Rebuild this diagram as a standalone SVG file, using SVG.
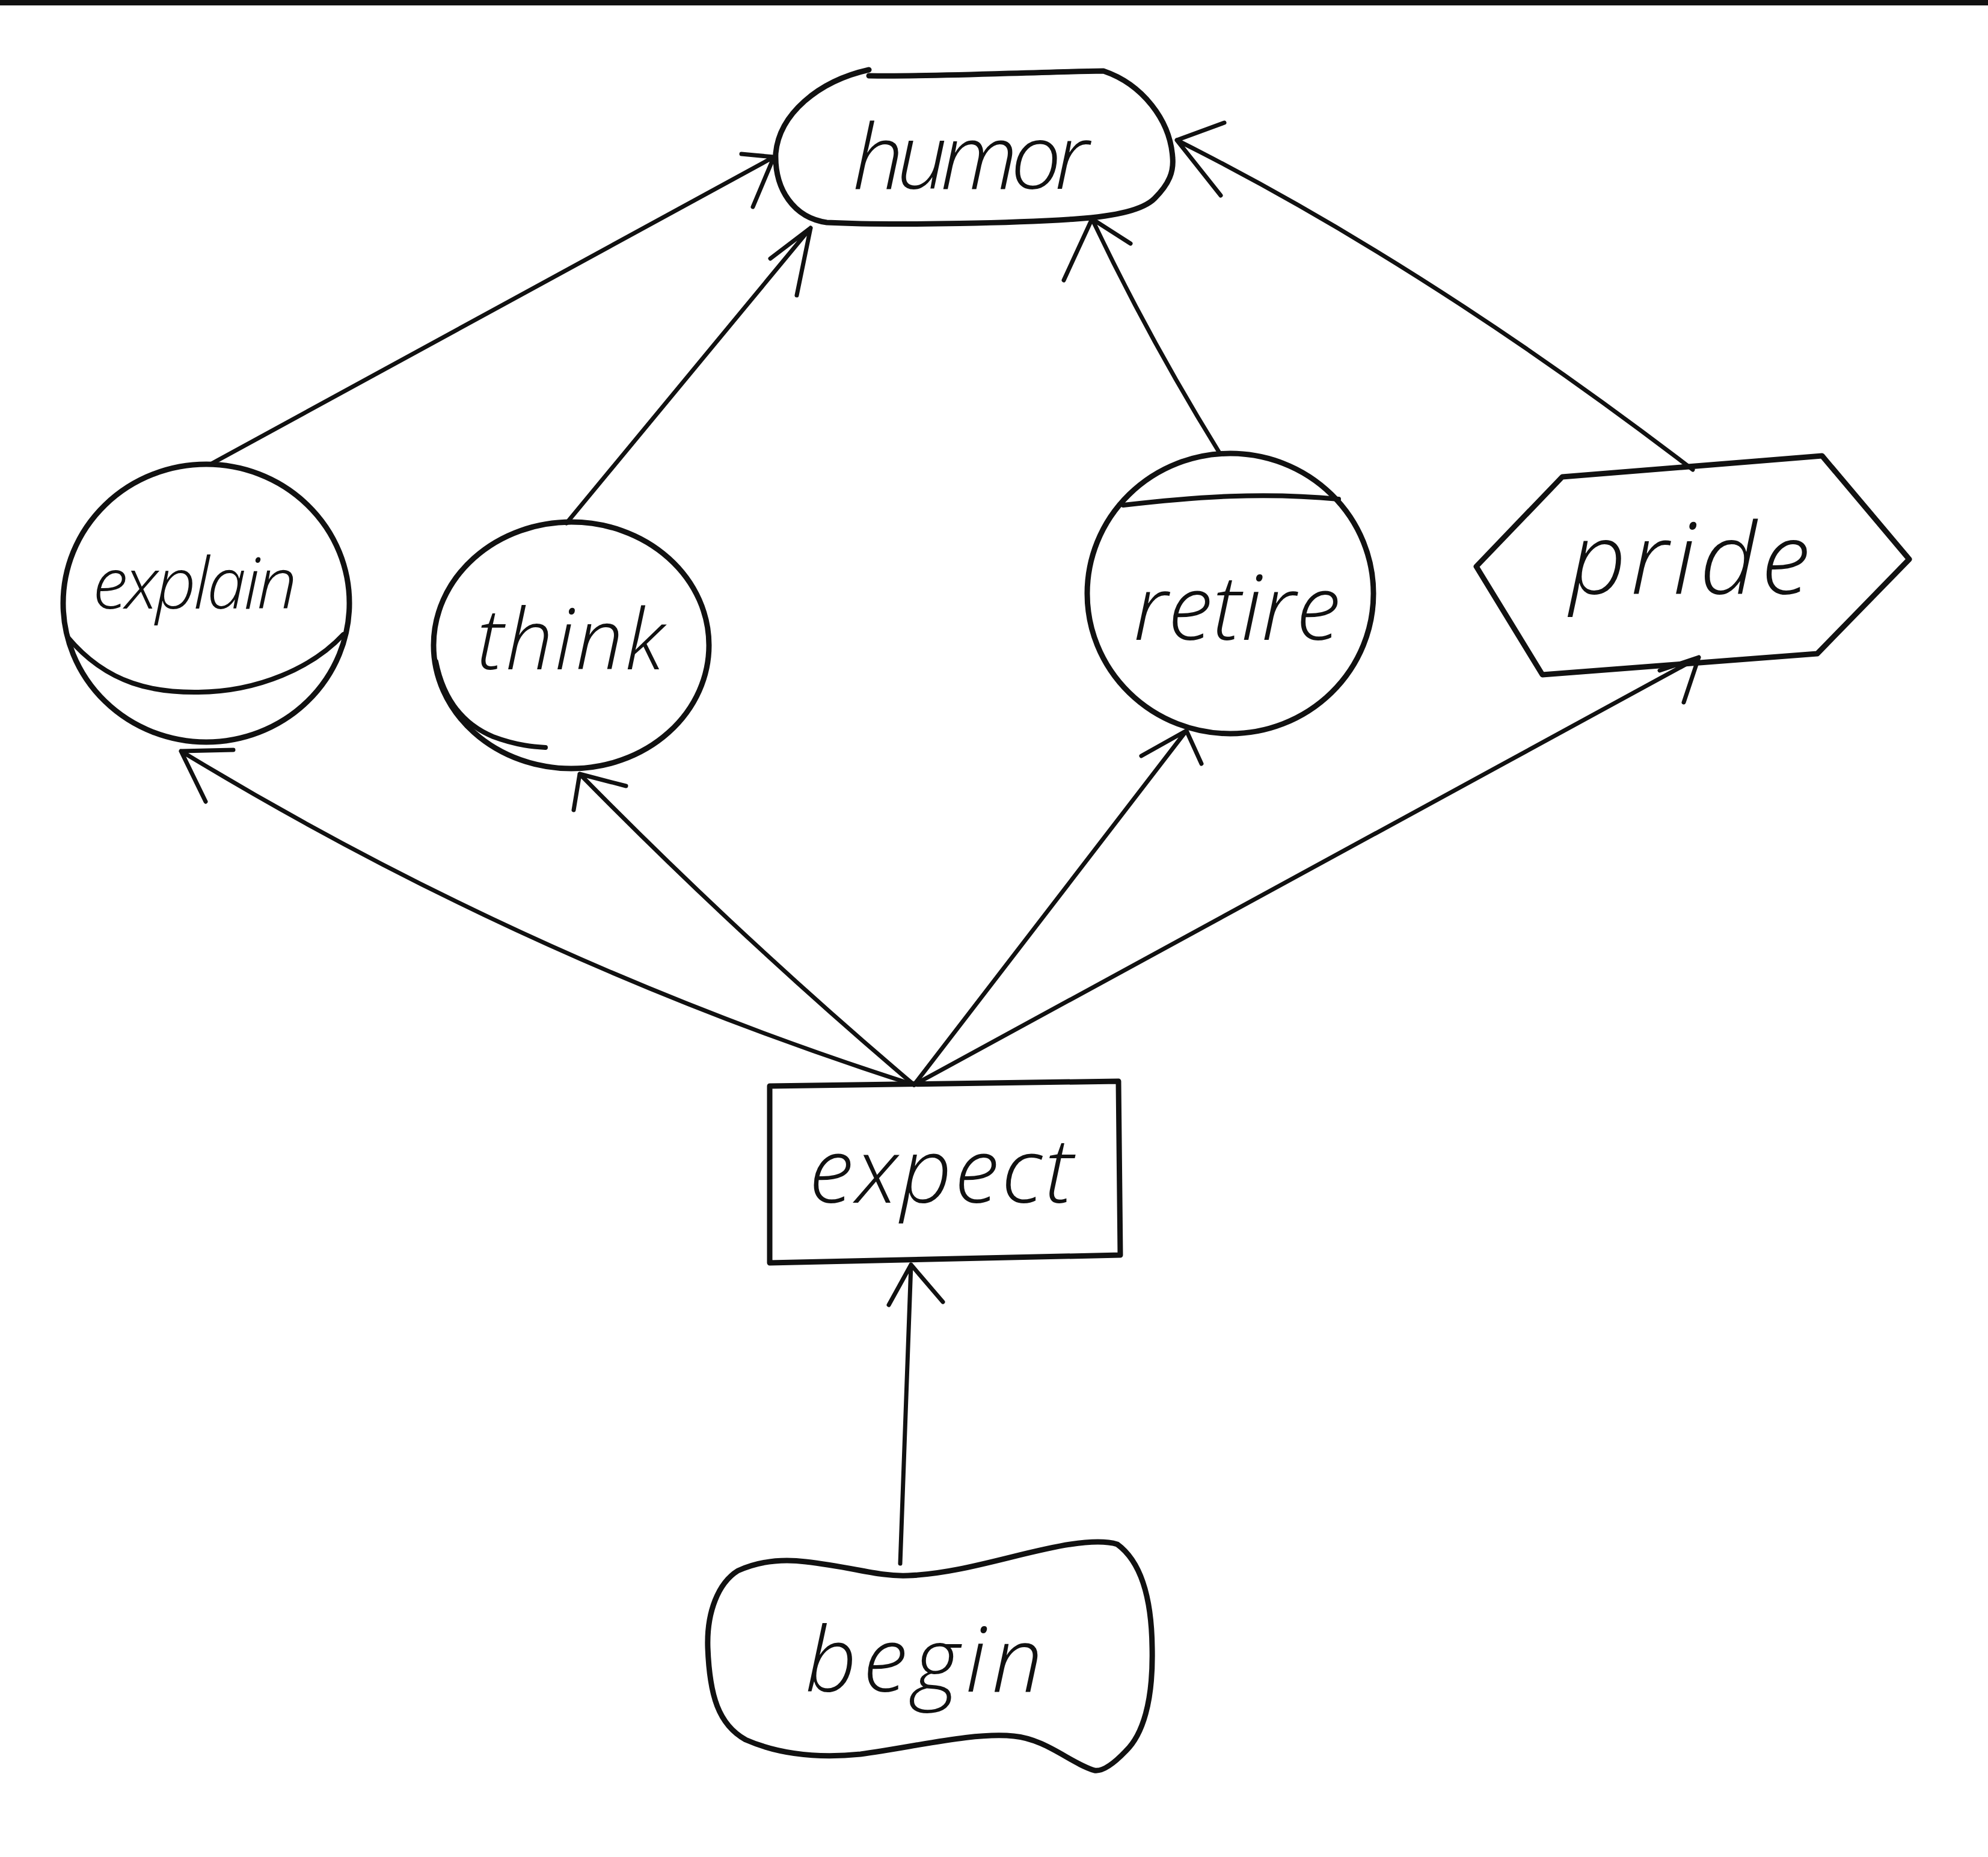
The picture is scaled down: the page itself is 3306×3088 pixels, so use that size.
<svg xmlns="http://www.w3.org/2000/svg" width="3306" height="3088" viewBox="0 0 3306 3088">
<style>
.node{fill:none;stroke:#111;stroke-width:9;stroke-linecap:round;stroke-linejoin:round}
.inner{fill:none;stroke:#111;stroke-width:8;stroke-linecap:round}
.edge{fill:none;stroke:#111;stroke-width:7;stroke-linecap:round;stroke-linejoin:round}
.lbl{font-family:"Open Sans","Liberation Sans",sans-serif;font-style:italic;font-weight:300;fill:#111}
</style>
<rect x="0" y="0" width="3306" height="9" fill="#111"/>
<g id="connectors">
<path id="e-explain-humor" class="edge" d="M 350 772 L 1287 261 M 1233 256 L 1287 261 L 1252 344"/>
<path id="e-think-humor" class="edge" d="M 942 870 L 1348 379 M 1281 430 L 1348 379 L 1325 491"/>
<path id="e-retire-humor" class="edge" d="M 2028 753 Q 1910 562 1816 364 M 1769 466 L 1816 364 L 1880 405"/>
<path id="e-pride-humor" class="edge" d="M 2815 781 Q 2370 440 1957 233 M 2036 204 L 1957 233 L 2030 325"/>
<path id="e-expect-explain" class="edge" d="M 1520 1804 Q 877 1599 301 1249 M 388 1247 L 301 1249 L 342 1333"/>
<path id="e-expect-think" class="edge" d="M 1520 1804 Q 1232 1560 964 1287 M 1041 1307 L 964 1287 L 954 1347"/>
<path id="e-expect-retire" class="edge" d="M 1520 1804 L 1973 1215 M 1898 1257 L 1973 1215 L 1998 1270"/>
<path id="e-expect-pride" class="edge" d="M 1520 1804 L 2825 1093 M 2760 1115 L 2825 1093 L 2800 1168"/>
<path id="e-begin-expect" class="edge" d="M 1497 2600 L 1515 2103 M 1478 2170 L 1515 2103 L 1568 2165"/>
</g>
<g id="humor">
<path class="node" d="M 1445 116 C 1360 135, 1296 190, 1290 255 C 1288 315, 1320 362, 1375 370 C 1500 376, 1700 370, 1790 364 C 1850 360, 1900 350, 1920 330 C 1945 305, 1952 285, 1950 262 C 1946 200, 1900 140, 1835 118 C 1700 120, 1560 128, 1445 126"/>
<text class="lbl" x="1418" y="314" font-size="150" textLength="393" lengthAdjust="spacing">humor</text>
</g>
<g id="explain">
<ellipse class="node" cx="343" cy="1003" rx="238" ry="231"/>
<path class="inner" d="M 113 1060 C 180 1140, 260 1152, 330 1151 C 430 1150, 520 1110, 571 1055"/>
<text class="lbl" x="154" y="1012" font-size="118" textLength="340" lengthAdjust="spacing">explain</text>
</g>
<g id="think">
<ellipse class="node" cx="950" cy="1073" rx="229" ry="205"/>
<path class="inner" d="M 725 1100 C 735 1150, 760 1200, 820 1225 C 860 1240, 890 1242, 907 1243"/>
<text class="lbl" x="793" y="1113" font-size="140" textLength="311" lengthAdjust="spacing">think</text>
</g>
<g id="retire">
<ellipse class="node" cx="2046" cy="987" rx="238" ry="233"/>
<path class="inner" d="M 1868 840 C 1990 826, 2100 818, 2226 830"/>
<text class="lbl" x="1885" y="1064" font-size="150" textLength="344" lengthAdjust="spacing">retire</text>
</g>
<g id="pride">
<polygon class="node" points="2598,793 3030,758 3175,930 3022,1087 2565,1122 2455,942"/>
<text class="lbl" x="2610" y="987" font-size="165" textLength="400" lengthAdjust="spacing">pride</text>
</g>
<g id="expect">
<path class="node" d="M 1280 1806 L 1860 1798 L 1863 2087 L 1280 2100 Z"/>
<text class="lbl" x="1345" y="2000" font-size="150" textLength="440" lengthAdjust="spacing">expect</text>
</g>
<g id="begin">
<path class="node" d="M 1227 2612 C 1260 2597, 1300 2592, 1340 2597 C 1420 2606, 1460 2622, 1510 2620 C 1600 2617, 1700 2580, 1780 2568 C 1820 2562, 1845 2564, 1858 2568 C 1895 2595, 1915 2650, 1916 2740 C 1918 2830, 1900 2885, 1872 2912 C 1850 2935, 1832 2946, 1820 2944 C 1780 2932, 1740 2892, 1686 2887 C 1620 2880, 1520 2905, 1431 2917 C 1350 2925, 1290 2915, 1240 2893 C 1195 2868, 1180 2820, 1177 2740 C 1175 2680, 1195 2632, 1227 2612 Z"/>
<text class="lbl" x="1339" y="2813" font-size="150" textLength="395" lengthAdjust="spacing">begin</text>
</g>
</svg>
